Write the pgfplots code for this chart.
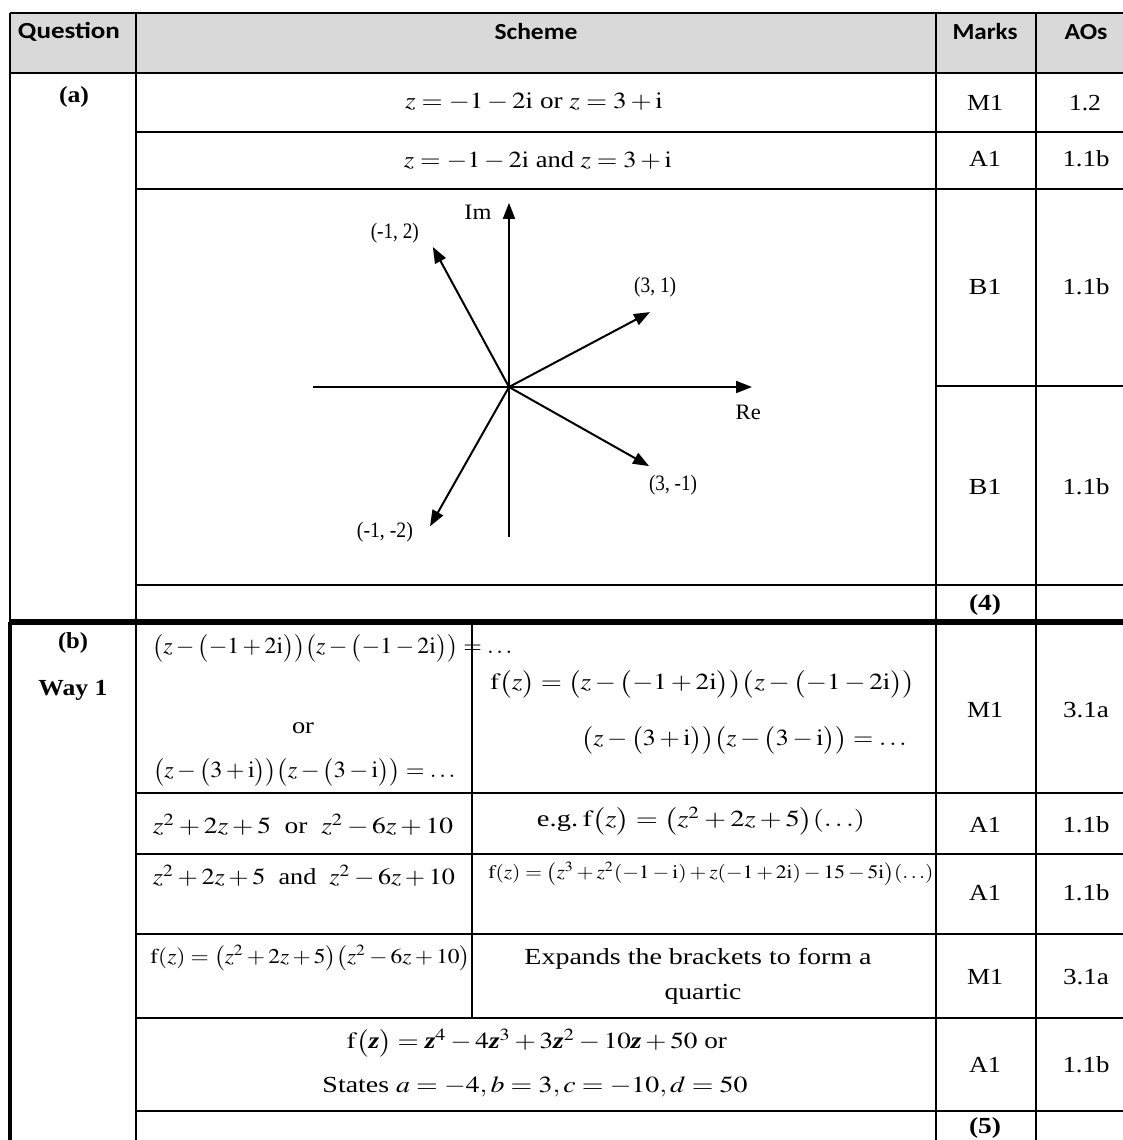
\documentclass[border=0pt]{standalone}
\usepackage{mathptmx}
\usepackage[no-math]{fontspec}
\setmainfont{Liberation Serif}
\newfontfamily\hdr{Carlito}
\usepackage{pgfplots}
\pgfplotsset{compat=1.18}
\usetikzlibrary{arrows.meta}
\newcommand\W[2]{\resizebox{#1pt}{\height}{#2}}
\newcommand\ii{\mathrm{i}}
\newcommand\f{\mathrm{f}}
\newcommand\bz{\textbf{\textit{z}}}
\tikzset{arr/.style={-{Triangle[length=8pt,width=6pt]}}}
\begin{document}
\begin{tikzpicture}
\useasboundingbox (0,0) rectangle (561.5pt,-570pt);
\begin{scope}[x=0.5pt,y=-0.5pt,every node/.style={inner sep=0pt,font=\fontsize{11.5}{14}\selectfont}]
% header fill
\fill[black!15] (10,13) rectangle (1123,73);
% lines
\draw[line width=1pt] (10,13) -- (1123,13);
\draw[line width=1pt] (10,73) -- (1123,73);
\draw[line width=1pt] (10,13) -- (10,622);
\draw[line width=2pt] (10,622) -- (10,1140);
\draw[line width=1pt] (136,13) -- (136,1140);
\draw[line width=1pt] (936,13) -- (936,1140);
\draw[line width=1pt] (1036,13) -- (1036,1140);
\foreach \yy in {132,189,585,793,854,934,1018,1111}
  \draw[line width=1pt] (136,\yy) -- (1123,\yy);
\draw[line width=1pt] (936,386) -- (1123,386);
\draw[line width=2.6pt] (10,622) -- (1123,622);
\draw[line width=1pt] (472,622) -- (472,1018);
\coordinate (O) at (509,387);
% header
\node[font=\hdr\bfseries\fontsize{11.5}{13}\selectfont] at (69,32) {\W{51}{Question}};
\node[font=\hdr\bfseries\fontsize{11.5}{13}\selectfont] at (536,32) {\W{41.5}{Scheme}};
\node[font=\hdr\bfseries\fontsize{11.5}{13}\selectfont] at (985,32) {\W{32.5}{Marks}};
\node[font=\hdr\bfseries\fontsize{11.5}{13}\selectfont] at (1086,32) {\W{21.5}{AOs}};
% part (a)
\node[font=\bfseries\fontsize{11.5}{14}\selectfont] at (74,97) {\W{15}{(a)}};
\node at (534,102) {\W{129}{$z=-1-2\ii$ or $z=3+\ii$}};
\node at (538,160) {\W{134}{$z=-1-2\ii$ and $z=3+\ii$}};
\node at (985,103) {\W{18}{M1}};
\node at (1085,103) {\W{16}{1.2}};
\node at (985,159) {\W{16}{A1}};
\node at (1086,159) {\W{23.5}{1.1b}};
\node at (985,287) {\W{16.5}{B1}};
\node at (1086,287) {\W{23.5}{1.1b}};
\node at (985,487) {\W{16.5}{B1}};
\node at (1086,487) {\W{23.5}{1.1b}};
\node[font=\bfseries\fontsize{11.5}{14}\selectfont] at (985,605) {\W{16}{(4)}};
% part (b)
\node[font=\bfseries\fontsize{11.5}{14}\selectfont] at (73,643) {\W{15}{(b)}};
\node[font=\bfseries\fontsize{11.5}{14}\selectfont] at (73,690) {\W{34.5}{Way 1}};
\node[anchor=west] at (152,648) {\W{180}{$\bigl(z-\bigl(-1+2\ii\bigr)\bigr)\bigl(z-\bigl(-1-2\ii\bigr)\bigr)=\ldots$}};
\node at (303,728) {\W{11}{or}};
\node[anchor=west] at (153,772) {\W{151}{$\bigl(z-\bigl(3+\ii\bigr)\bigr)\bigl(z-\bigl(3-\ii\bigr)\bigr)=\ldots$}};
\node[anchor=west] at (490,684) {\W{212.5}{$\f\bigl(z\bigr)=\bigl(z-\bigl(-1+2\ii\bigr)\bigr)\bigl(z-\bigl(-1-2\ii\bigr)\bigr)$}};
\node[anchor=east] at (907,740) {\W{162.5}{$\bigl(z-\bigl(3+\ii\bigr)\bigr)\bigl(z-\bigl(3-\ii\bigr)\bigr)=\ldots$}};
\node at (985,710) {\W{18}{M1}};
\node at (1086,710) {\W{23}{3.1a}};
\node at (303,825) {\W{150}{$z^2+2z+5$\ \ or\ \ $z^2-6z+10$}};
\node at (701,821) {\W{164}{e.g.\,$\f\bigl(z\bigr)=\bigl(z^2+2z+5\bigr)(\ldots)$}};
\node at (985,825) {\W{16}{A1}};
\node at (1086,825) {\W{23.5}{1.1b}};
\node at (304,876) {\W{151}{$z^2+2z+5$\ \ and\ \ $z^2-6z+10$}};
\node[anchor=west,font=\fontsize{9.5}{11}\selectfont] at (488,874) {\W{222.5}{$\f(z)=\bigl(z^3+z^2(-1-\ii)+z(-1+2\ii)-15-5\ii\bigr)(\ldots)$}};
\node at (985,893) {\W{16}{A1}};
\node at (1086,893) {\W{23.5}{1.1b}};
\node[anchor=west,font=\fontsize{10.5}{12}\selectfont] at (150,958) {\W{160}{$\f(z)=\bigl(z^2+2z+5\bigr)\bigl(z^2-6z+10\bigr)$}};
\node at (698,959) {\W{173.5}{Expands the brackets to form a}};
\node at (703,994) {\W{38.5}{quartic}};
\node at (985,977) {\W{18}{M1}};
\node at (1086,977) {\W{23}{3.1a}};
\node at (537,1043) {\W{190}{$\f\bigl(\bz\bigr)=\bz^4-4\bz^3+3\bz^2-10\bz+50$ or}};
\node at (535,1087) {\W{212.5}{States $a=-4, b=3, c=-10, d=50$}};
\node at (985,1065) {\W{16}{A1}};
\node at (1086,1065) {\W{23.5}{1.1b}};
\node[font=\bfseries\fontsize{11.5}{14}\selectfont] at (985,1128) {\W{16}{(5)}};
\end{scope}
% Argand diagram
\begin{axis}[at={(O)}, anchor=origin, x=23.5pt, y=35pt,
  xmin=-4.17, xmax=5.17, ymin=-2.14, ymax=2.63,
  axis lines=middle, axis line style={line width=1pt},
  every inner x axis line/.append style={arr},
  every inner y axis line/.append style={arr},
  xtick=\empty, ytick=\empty, clip=false]
\addplot[line width=1pt, arr] coordinates {(0,0) (-1.62,2.0)};
\addplot[line width=1pt, arr] coordinates {(0,0) (3.0,1.07)};
\addplot[line width=1pt, arr] coordinates {(0,0) (2.98,-1.13)};
\addplot[line width=1pt, arr] coordinates {(0,0) (-1.68,-1.99)};
\node[font=\fontsize{11}{13}\selectfont] at (axis cs:-2.43,2.2) {\W{24}{(-1, 2)}};
\node[font=\fontsize{11}{13}\selectfont] at (axis cs:3.11,1.43) {\W{21}{(3, 1)}};
\node[font=\fontsize{11}{13}\selectfont] at (axis cs:3.49,-1.4) {\W{24}{(3, -1)}};
\node[font=\fontsize{11}{13}\selectfont] at (axis cs:-2.64,-2.07) {\W{28}{(-1, -2)}};
\node[font=\fontsize{11}{13}\selectfont] at (axis cs:-0.66,2.49) {\W{13.5}{Im}};
\node[font=\fontsize{11}{13}\selectfont] at (axis cs:5.09,-0.36) {\W{12.5}{Re}};
\end{axis}
\end{tikzpicture}
\end{document}
